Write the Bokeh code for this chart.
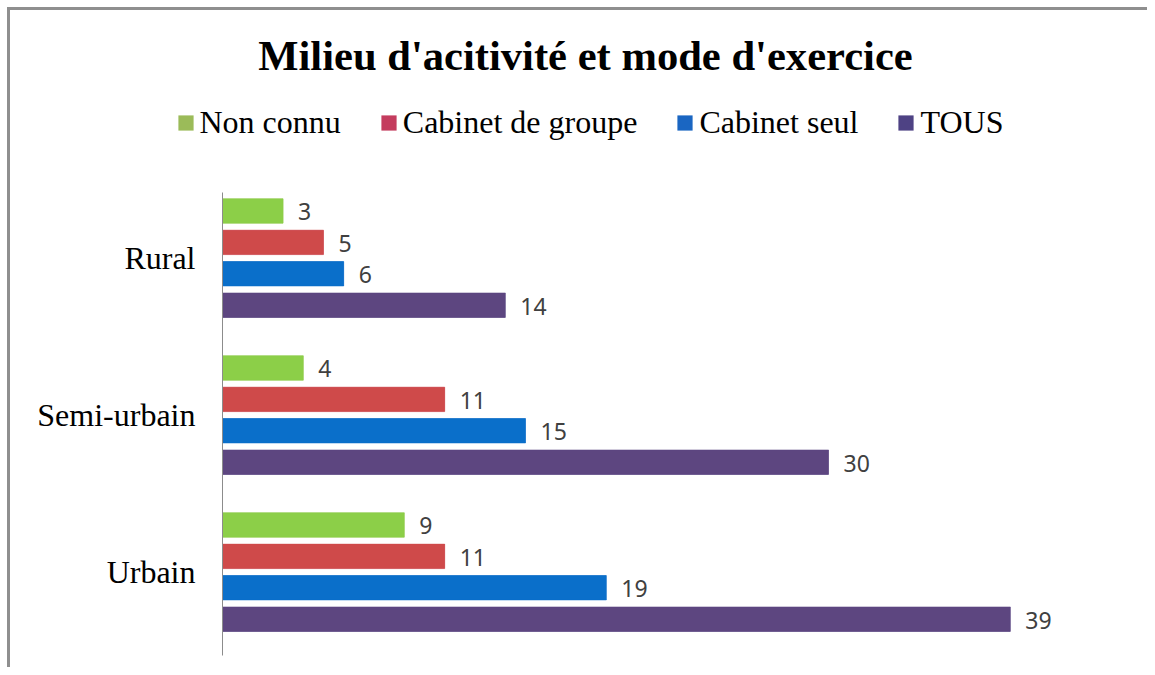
from bokeh.plotting import figure
from bokeh.models import (ColumnDataSource, Range1d, FixedTicker, Legend, LegendItem, Label)
from bokeh.core.properties import value
from bokeh.embed import file_html
from bokeh.resources import INLINE

# ---- data ----
categories = ["Rural", "Semi-urbain", "Urbain"]
series_names = ["Non connu", "Cabinet de groupe", "Cabinet seul", "TOUS"]
non_connu = [3, 4, 9]
cabinet_groupe = [5, 11, 11]
cabinet_seul = [6, 15, 19]
tous = [14, 30, 39]
bar_colors = ["#8CCF48", "#CF4A4A", "#0A6FCA", "#5D4680"]
legend_colors = ["#9BBB59", "#C43C5E", "#1A66C2", "#4E4284"]
title_text = "Milieu d'acitivité et mode d'exercice"

series_values = [non_connu, cabinet_groupe, cabinet_seul, tous]
offsets = [0.3, 0.1, -0.1, -0.3]
n = len(categories)
cat_pos = [n - 1 - i for i in range(n)]  # Rural on top

W, H = 1140, 660
p = figure(width=W, height=H, output_backend="svg", toolbar_location=None,
           x_range=Range1d(-10.495, 45.94), y_range=Range1d(-0.627, 3.577),
           min_border_left=0, min_border_right=0, min_border_bottom=0,
           min_border_top=0)
p.styles = {"margin-left": "7px", "margin-top": "7px",
            "border-left": "3px solid #8f8f8f", "border-top": "3px solid #8f8f8f"}
p.title.visible = False
p.outline_line_color = None
p.xgrid.visible = False
p.ygrid.visible = False
p.xaxis.visible = False
p.background_fill_color = "white"
p.border_fill_color = "white"

yax = p.yaxis[0]
yax.fixed_location = 0
yax.bounds = (-0.532, 2.417)
yax.ticker = FixedTicker(ticks=cat_pos)
yax.major_label_overrides = {pos: c for pos, c in zip(cat_pos, categories)}
yax.major_tick_line_color = None
yax.major_tick_out = 0
yax.major_tick_in = 0
yax.minor_tick_line_color = None
yax.axis_line_color = "#8c8c8c"
yax.axis_line_width = 1
yax.major_label_standoff = 27
yax.major_label_text_font = "Liberation Serif"
yax.major_label_text_font_size = "32px"
yax.major_label_text_color = "black"

items = []
for name, vals, off, col, lcol in zip(series_names, series_values, offsets,
                                      bar_colors, legend_colors):
    src = ColumnDataSource(dict(y=[c + off for c in cat_pos], v=vals,
                                t=[str(v) for v in vals]))
    # legend-coloured copy drawn underneath the visible bars (used for the legend key)
    lr = p.hbar(y="y", left=0, right="v", height=0.156, source=src,
                fill_color=lcol, line_color=None)
    p.hbar(y="y", left=0, right="v", height=0.156, source=src,
           fill_color=col, line_color=col, line_width=0.5)
    items.append(LegendItem(label=name, renderers=[lr]))
    p.text(x="v", y="y", text="t", source=src, x_offset=15, y_offset=1,
           text_baseline="middle", text_align="left",
           text_font=value("Noto Sans"), text_font_size="23px",
           text_color="#404040")

legend = Legend(items=items, orientation="horizontal", location=(165.5, 529),
                label_text_font="Liberation Serif", label_text_font_size="32px",
                label_text_color="black", label_height=38,
                glyph_width=19, glyph_height=19, label_standoff=5, spacing=38,
                padding=0, margin=0, border_line_color=None,
                background_fill_alpha=0)
p.add_layout(legend, "center")

title = Label(x=575, y=615, x_units="screen", y_units="screen", text=title_text,
              text_align="center", text_baseline="alphabetic",
              text_font="Liberation Serif", text_font_size="42.6px",
              text_font_style="bold", text_color="black")
p.add_layout(title)

open("out.html", "w").write(file_html(p, INLINE))
